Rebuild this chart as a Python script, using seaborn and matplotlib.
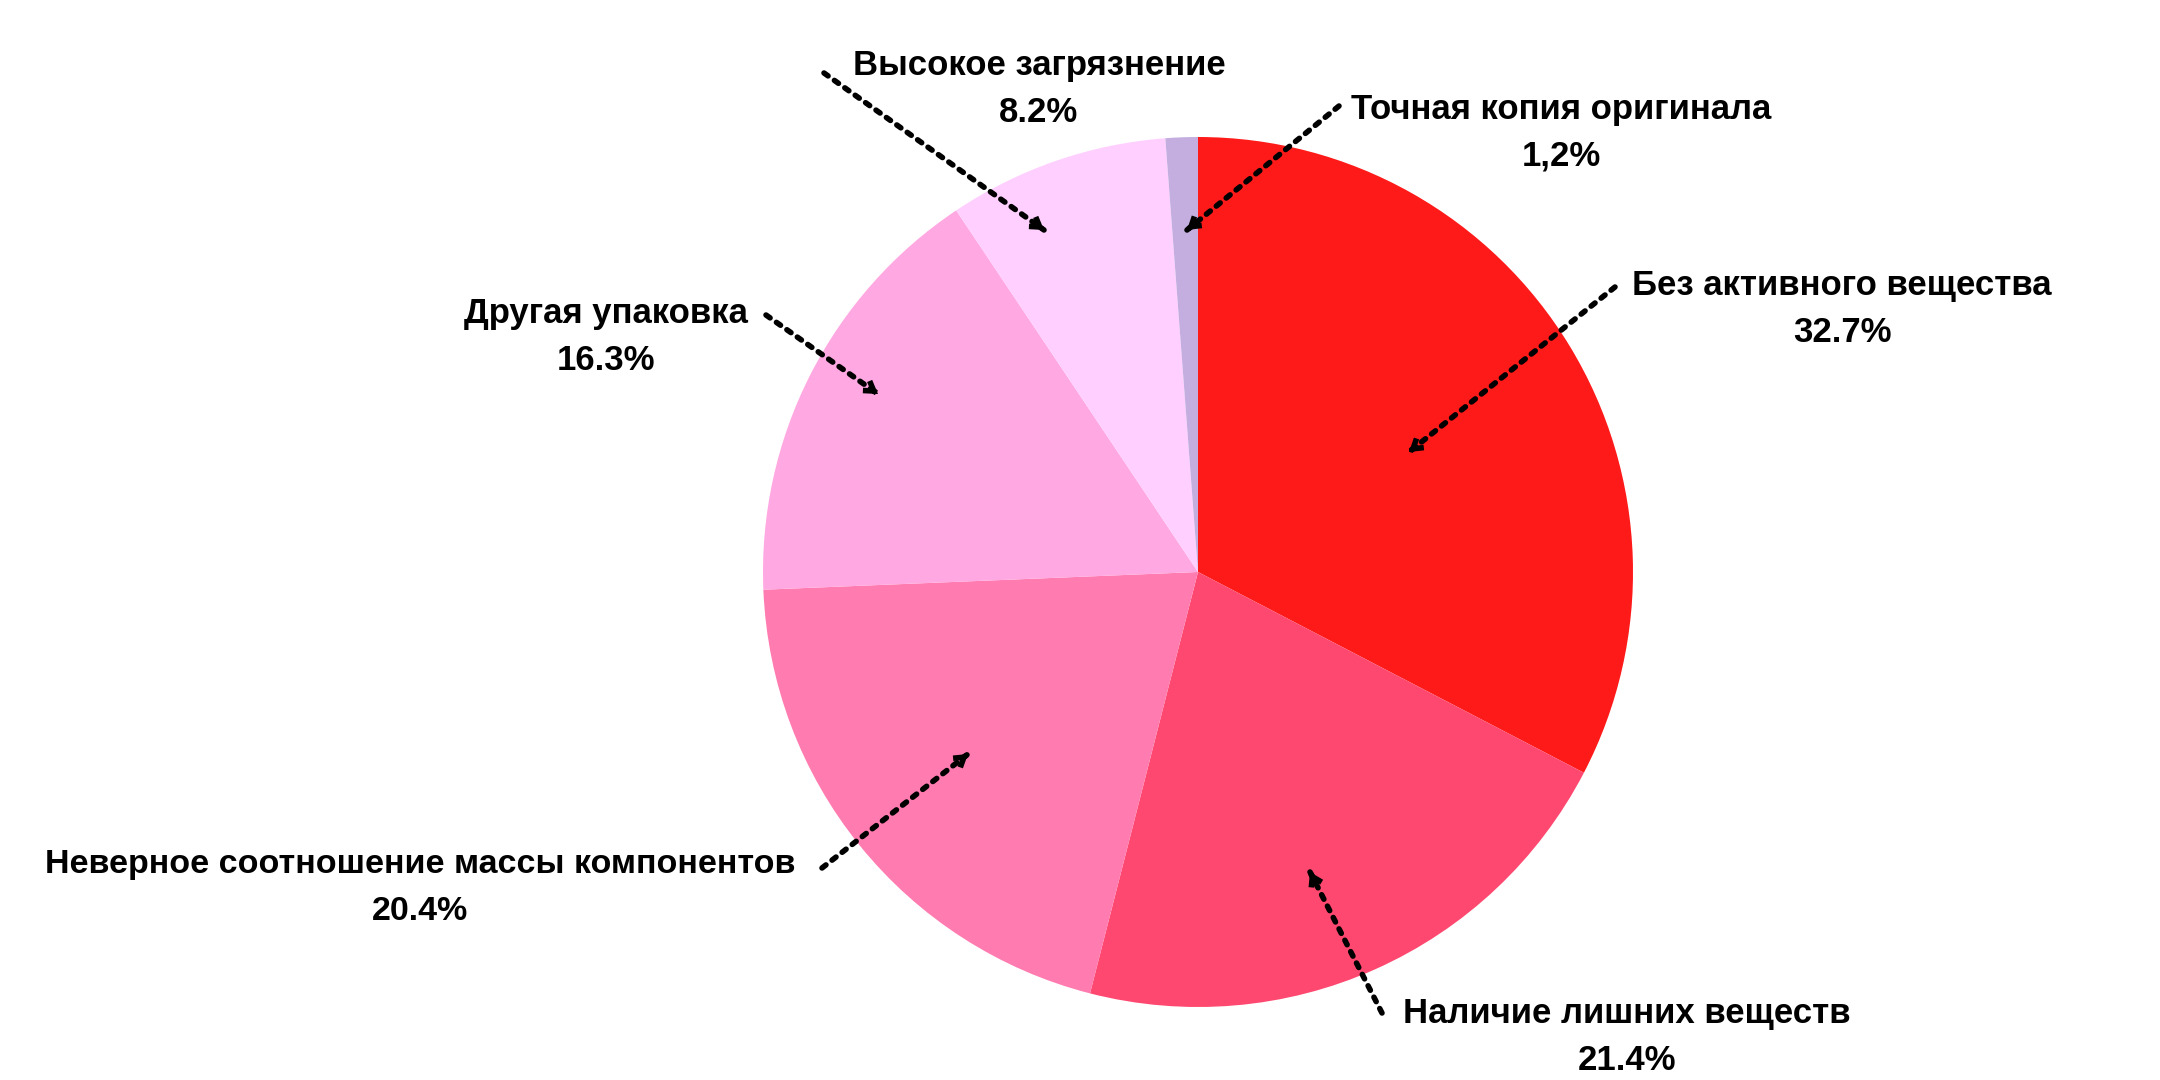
import matplotlib
matplotlib.use("Agg")
import matplotlib.pyplot as plt
import seaborn as sns
import numpy as np

# ===============================
# Data
# ===============================
categories = [
    "Без активного вещества",
    "Наличие лишних веществ",
    "Неверное соотношение массы компонентов",
    "Другая упаковка",
    "Высокое загрязнение",
    "Точная копия оригинала",
]
shares = [32.7, 21.4, 20.4, 16.3, 8.2, 1.2]
share_labels = ["32.7%", "21.4%", "20.4%", "16.3%", "8.2%", "1,2%"]
colors = ["#FF1A1A", "#FF486F", "#FF7BB0", "#FFA8E2", "#FFD0FF", "#C4AEE0"]

# ===============================
# Layout (pixel coordinates, y from top)
# ===============================
W, H = 2160, 1080
CENTER = (1198, 572)
RADIUS = 435

# label centre (first line), arrow tail, arrow head
label_pos = [(1842, 285), (1627, 1014), (420, 865), (606, 314), (1039, 66), (1561, 109)]
arrow_tail = [(1615, 287), (1382, 1013), (822, 868), (766, 315), (824, 73), (1339, 106)]
arrow_head = [(1409, 452), (1310, 872), (968, 754), (878, 394), (1044, 230), (1187, 230)]
font_sizes = [25, 25, 24.5, 25, 25, 25]

sns.set_theme(style="white")
plt.rcParams["font.family"] = ["Liberation Sans", "DejaVu Sans"]

fig = plt.figure(figsize=(21.6, 10.8), dpi=100)
ax = fig.add_axes([0, 0, 1, 1])

ax.pie(
    shares,
    colors=colors,
    startangle=90,
    counterclock=False,
    center=(CENTER[0], H - CENTER[1]),
    radius=RADIUS,
    wedgeprops=dict(linewidth=0, antialiased=True),
)
ax.set_xlim(0, W)
ax.set_ylim(0, H)
ax.set_aspect("equal")
ax.axis("off")

for i, cat in enumerate(categories):
    lx, ly = label_pos[i]
    ax.text(lx, H - ly, cat, ha="center", va="center", fontsize=font_sizes[i],
            fontweight="bold", color="black")
    ax.text(lx, H - ly - 47, share_labels[i], ha="center", va="center",
            fontsize=font_sizes[i], fontweight="bold", color="black")

    tail = np.array([arrow_tail[i][0], H - arrow_tail[i][1]], dtype=float)
    head = np.array([arrow_head[i][0], H - arrow_head[i][1]], dtype=float)
    # dotted shaft
    ax.annotate(
        "", xy=head, xytext=tail,
        arrowprops=dict(arrowstyle="-", lw=4, linestyle=(0, (0.9, 1.4)),
                        color="black", shrinkA=0, shrinkB=0),
    )
    # solid open head
    u = (head - tail) / np.linalg.norm(head - tail)
    ax.annotate(
        "", xy=head, xytext=head - 2 * u,
        arrowprops=dict(arrowstyle="->,head_length=0.55,head_width=0.35", lw=4,
                        color="black", shrinkA=0, shrinkB=0,
                        joinstyle="miter", capstyle="butt"),
    )

plt.savefig("out.png", dpi=100, facecolor="white")
plt.close()
